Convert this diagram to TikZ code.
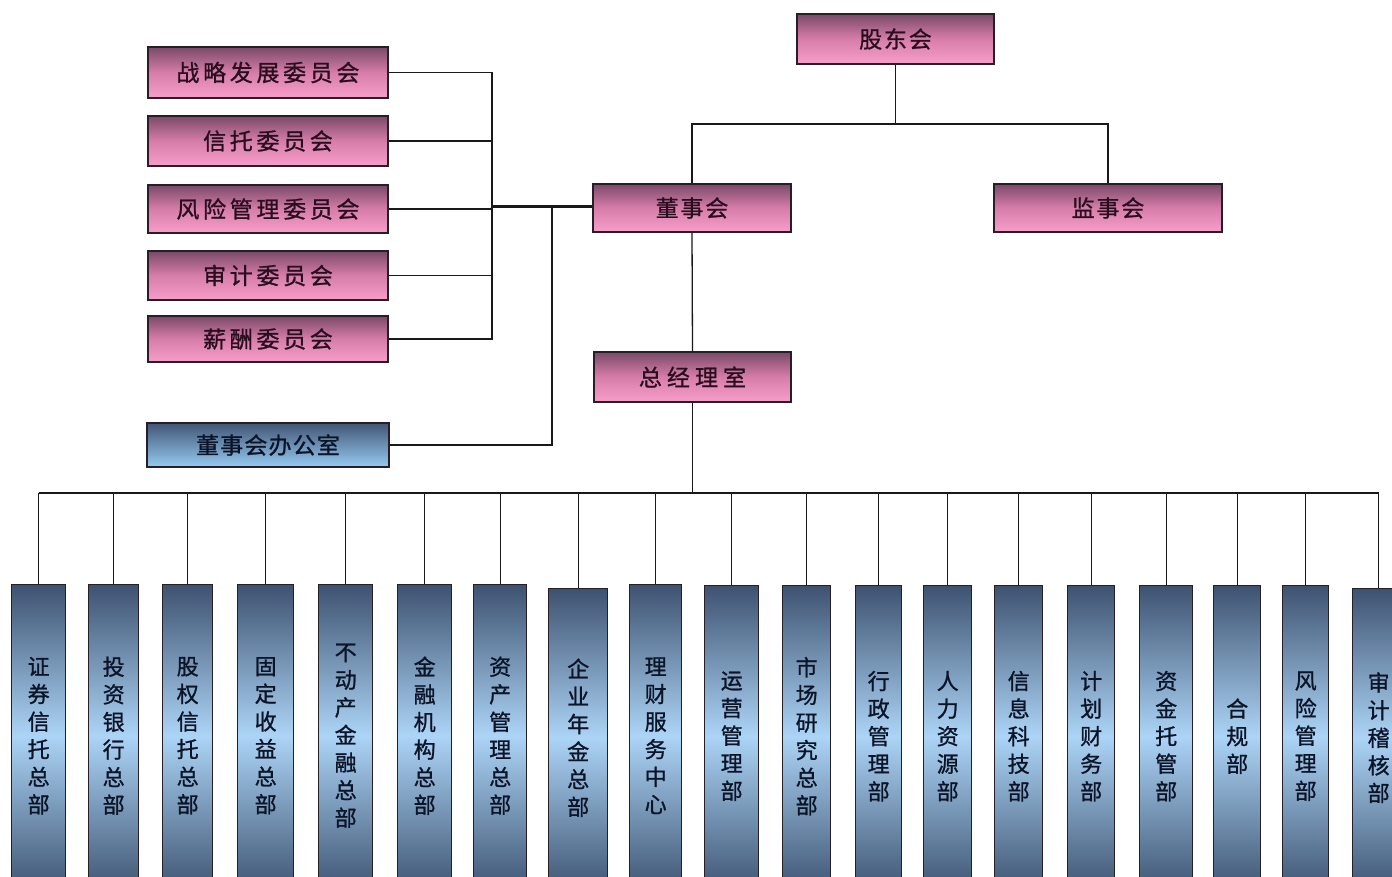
\documentclass[tikz,border=0pt]{standalone}
\usepackage{fontspec}
\newfontfamily\cjk[FakeBold=1]{Noto Sans CJK SC}
\definecolor{edge}{RGB}{40,30,38}
\definecolor{wire}{RGB}{25,25,25}
\definecolor{pinkTop}{RGB}{122,74,104}
\definecolor{pinkMid}{RGB}{215,125,170}
\definecolor{pinkBot}{RGB}{248,158,202}
\definecolor{pinkText}{RGB}{40,14,30}
\definecolor{deptTop}{RGB}{62,82,112}
\definecolor{deptMid}{RGB}{172,212,246}
\definecolor{deptBot}{RGB}{66,88,118}
\definecolor{deptText}{RGB}{12,20,40}
\definecolor{offTop}{RGB}{66,86,118}
\definecolor{offBot}{RGB}{150,202,242}
\begin{document}
\begin{tikzpicture}[x=1pt,y=-1pt,
  link/.style={draw=wire, line width=1.3pt},
  trunk/.style={draw=wire, line width=3pt},
  pinkbox/.style={draw=edge, line width=1.4pt, top color=pinkTop, bottom color=pinkBot, middle color=pinkMid,
    inner sep=0pt, text=pinkText, font=\cjk\fontsize{23}{23}\selectfont},
  officebox/.style={draw=edge, line width=1.4pt, top color=offTop, bottom color=offBot,
    inner sep=0pt, text=deptText, font=\cjk\fontsize{23}{23}\selectfont},
  deptbox/.style={draw=edge, line width=1.4pt, top color=deptTop, bottom color=deptBot, middle color=deptMid,
    inner sep=0pt, align=center, text=deptText, font=\cjk\fontsize{22}{27.6}\selectfont},
  spaced/.style={execute at begin node={\addfontfeature{LetterSpace=#1}}}
]
\useasboundingbox (0,0) rectangle (1392,877);
\clip (0,0) rectangle (1392,877);
\fill[white] (0,0) rectangle (1392,877);

% governance level
\node[pinkbox, spaced=8, minimum width=197pt, minimum height=50pt] (gdh) at (895.5,39) {股东会};
\node[pinkbox, spaced=8, minimum width=198pt, minimum height=48pt] (dsh) at (692,208) {董事会};
\node[pinkbox, spaced=8, minimum width=228pt, minimum height=48pt] (jsh) at (1108,208) {监事会};
\node[pinkbox, spaced=22, minimum width=197pt, minimum height=50pt] (zjl) at (692.5,377) {总经理室};

% board committees
\node[pinkbox, spaced=16, minimum width=240pt, minimum height=51pt] (c1) at (268,72.5) {战略发展委员会};
\node[pinkbox, spaced=16, minimum width=240pt, minimum height=50pt] (c2) at (268,141) {信托委员会};
\node[pinkbox, spaced=16, minimum width=240pt, minimum height=48pt] (c3) at (268,209) {风险管理委员会};
\node[pinkbox, spaced=16, minimum width=240pt, minimum height=49pt] (c4) at (268,275.5) {审计委员会};
\node[pinkbox, spaced=16, minimum width=240pt, minimum height=46pt] (c5) at (268,339) {薪酬委员会};
\node[officebox, spaced=5, minimum width=242pt, minimum height=44pt] (off) at (268,445) {董事会办公室};

% connectors above the board
\coordinate (topbus) at (0,124);
\draw[link] (gdh.south) -- (gdh.south |- topbus);
\draw[link] (dsh.north) |- (gdh.south |- topbus) -| (jsh.north);

% committee bus
\coordinate (cbus) at (492,207);
\coordinate (obus) at (552,207);
\foreach \c in {c1,c2,c3,c4,c5}{
  \draw[link] (\c.east) -| (cbus);
}
\draw[trunk] (cbus) -- (dsh.west |- cbus);
\draw[link] (obus) |- (off.east);
\draw[link] (dsh.south) -- (zjl.north);

% departments
\coordinate (bus) at (0,493);
\draw[link] (zjl.south) -- (zjl.south |- bus);
\foreach \n/\l/\r/\t/\txt in {
  1/11/65/584/{证\\券\\信\\托\\总\\部},
  2/88/138/584/{投\\资\\银\\行\\总\\部},
  3/162/212/584/{股\\权\\信\\托\\总\\部},
  4/237/293/584/{固\\定\\收\\益\\总\\部},
  5/318/372/584/{不\\动\\产\\金\\融\\总\\部},
  6/397/451/584/{金\\融\\机\\构\\总\\部},
  7/473/526/584/{资\\产\\管\\理\\总\\部},
  8/548/607/588/{企\\业\\年\\金\\总\\部},
  9/629/681/584/{理\\财\\服\\务\\中\\心},
  10/704/758/585/{运\\营\\管\\理\\部},
  11/782/830/585/{市\\场\\研\\究\\总\\部},
  12/855/901/585/{行\\政\\管\\理\\部},
  13/923/971/585/{人\\力\\资\\源\\部},
  14/994/1042/585/{信\\息\\科\\技\\部},
  15/1067/1114/585/{计\\划\\财\\务\\部},
  16/1139/1192/585/{资\\金\\托\\管\\部},
  17/1213/1260/585/{合\\规\\部},
  18/1282/1328/585/{风\\险\\管\\理\\部},
  19/1352/1404/588/{审\\计\\稽\\核\\部}}{
  \pgfmathsetmacro\w{\r-\l}
  \pgfmathsetmacro\h{886-\t}
  \node[deptbox, anchor=north west, minimum width=\w pt, minimum height=\h pt] (d\n) at (\l,\t) {\txt};
  \draw[link] (d\n.north) -- (d\n.north |- bus);
}
\draw[link] (d1.north |- bus) -- (d19.north |- bus);
\end{tikzpicture}
\end{document}
